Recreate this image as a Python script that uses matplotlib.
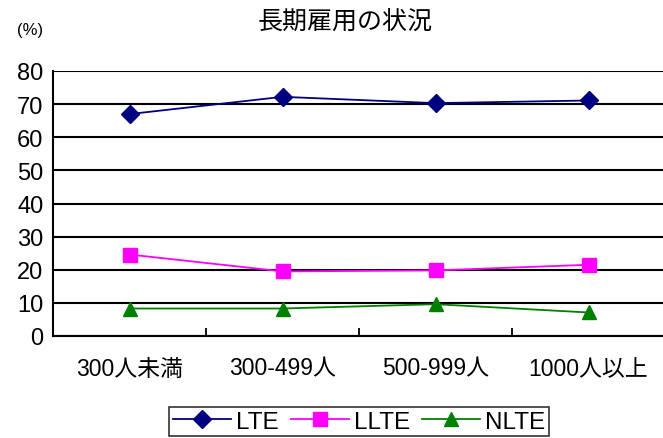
import numpy as np
import matplotlib.pyplot as plt

plt.rcParams['font.family'] = ['Liberation Sans', 'Noto Sans CJK JP', 'DejaVu Sans']

categories = ['300人未満', '300-499人', '500-999人', '1000人以上']
lte = [67.0, 72.2, 70.3, 71.1]
llte = [24.6, 19.5, 19.8, 21.5]
nlte = [8.3, 8.3, 9.6, 7.1]

fig = plt.figure(figsize=(6.63, 4.39), dpi=100)
ax = fig.add_axes([53/663, 1-337/439, 612/663, 265/439])

x = np.arange(len(categories))
ax.plot(x, lte, color='#000080', marker='D', markersize=9, lw=1.3, label='LTE', clip_on=False, zorder=3)
ax.plot(x, llte, color='#ff00ff', marker='s', markersize=10, lw=1.3, label='LLTE', clip_on=False, zorder=3)
ax.plot(x, nlte, color='#008000', marker='^', markersize=10, lw=1.3, label='NLTE', clip_on=False, zorder=3)

ax.set_xlim(-0.5, 3.5)
ax.set_ylim(0, 80)
ax.set_yticks(range(0, 81, 10))
ax.yaxis.grid(True, color='black', lw=1.5)
ax.set_axisbelow(True)
for s in ['top', 'right']:
    ax.spines[s].set_visible(False)
for s in ['left', 'bottom']:
    ax.spines[s].set_linewidth(1.5)

ax.set_xticks(x)
ax.set_xticklabels(categories, fontsize=16.5)
ax.tick_params(axis='x', length=0, pad=15)
ax.set_xticks([0.5, 1.5, 2.5], minor=True)
ax.tick_params(axis='x', which='minor', direction='in', length=6, width=1.3)
ax.tick_params(axis='y', length=0, labelsize=17, pad=7)

fig.text(0.521, 0.948, '長期雇用の状況', ha='center', va='center', fontsize=18)
fig.text(0.046, 0.93, '(%)', ha='center', va='center', fontsize=12)

leg = fig.legend(loc='upper center', bbox_to_anchor=(0.5415, 1-408/439), ncol=3,
                 fontsize=17.5, frameon=True, fancybox=False, edgecolor='black',
                 handlelength=2.4, handletextpad=0.2, columnspacing=0.5,
                 borderpad=0.15, borderaxespad=0)
leg.get_frame().set_linewidth(1.2)

fig.savefig('out.png', dpi=100)
